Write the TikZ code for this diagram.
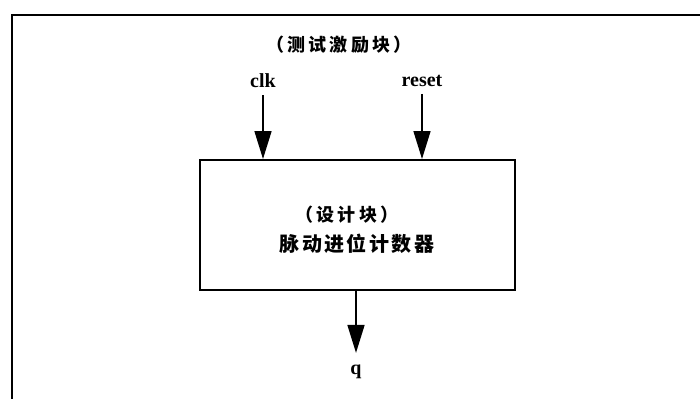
\documentclass[tikz,border=0pt]{standalone}
\usepackage{fontspec}
\setmainfont{Liberation Serif}
\newfontfamily\cjk{Noto Sans CJK SC}
\usetikzlibrary{arrows.meta}
\tikzset{
  frame/.style={line width=2pt},
  blockbox/.style={draw, line width=2pt, minimum width=315pt, minimum height=130pt, inner sep=0pt},
  sig/.style={inner sep=1pt, font=\fontsize{20}{22}\selectfont\bfseries},
  cntext/.style 2 args={inner sep=0pt, font=\fontsize{#1}{#1}\selectfont\cjk\bfseries\addfontfeature{LetterSpace=#2}}
}
\tikzset{arr/.style={line width=1.6pt, -{Triangle[length=28pt,width=17pt]}}}
\begin{document}
\begin{tikzpicture}[x=1pt,y=-1pt]
\useasboundingbox (0,0) rectangle (700,399);
\coordinate (fa) at (700,15);
\coordinate (fb) at (12,15);
\coordinate (fc) at (12,399);
\draw[frame] (fa) -- (fb) -- (fc);
\node[cntext={18}{18}] (title) at (339,45) {（\hspace{3pt}测试激励块\hspace{3pt}）};
\node[sig] (clk) at (263,81) {clk};
\node[sig] (reset) at (422,81) {reset};
\node[blockbox] (box) at (357.5,225) {};
\node[cntext={18}{18}] (d1) at (347,215) {（\hspace{3pt}设计块\hspace{3pt}）};
\node[cntext={20}{12}] (d2) at (357,244) {脉动进位计数器};
\node[sig] (q) at (356,372) {q};
\draw[arr] ([yshift=-6pt]clk.south) -- (clk.south |- box.north);
\draw[arr] ([yshift=-6pt]reset.south) -- (reset.south |- box.north);
\draw[arr] (box.south -| q.north) -- ([yshift=11pt]q.north);
\end{tikzpicture}
\end{document}
